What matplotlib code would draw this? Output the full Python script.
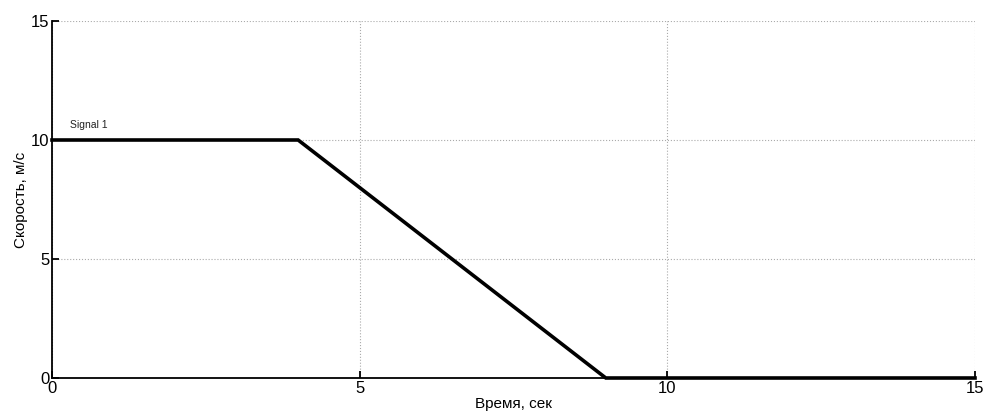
import matplotlib
matplotlib.use('Agg')
import matplotlib.pyplot as plt

time_s = [0, 4, 9, 15]
speed_ms = [10, 10, 0, 0]
ticks = [0, 5, 10, 15]

plt.rcParams['font.family'] = ['Liberation Sans', 'DejaVu Sans']

fig = plt.figure(figsize=(9.84, 4.12), dpi=100)
ax = fig.add_axes([52 / 984, 34 / 412, 923 / 984, 357 / 412])

ax.plot(time_s, speed_ms, color='black', linewidth=2.6, solid_joinstyle='miter', clip_on=False, zorder=3)
ax.text(0.3, 10.5, 'Signal 1', fontsize=7.5, color='#222222')

ax.set_xlim(0, 15)
ax.set_ylim(0, 15)
ax.set_xticks(ticks)
ax.set_yticks(ticks)
ax.grid(True, linestyle=':', color='#aaaaaa', linewidth=0.8)
ax.spines['top'].set_visible(False)
ax.spines['right'].set_visible(False)
ax.spines['left'].set_linewidth(1.3)
ax.spines['bottom'].set_linewidth(1.3)
ax.tick_params(direction='in', length=5, width=1.3, labelsize=12, pad=2)

ax.set_xlabel('Время, сек', fontsize=11, labelpad=1)
ax.set_ylabel('Скорость, м/с', fontsize=11, labelpad=2)

plt.savefig('out.png', dpi=100)
plt.close()
